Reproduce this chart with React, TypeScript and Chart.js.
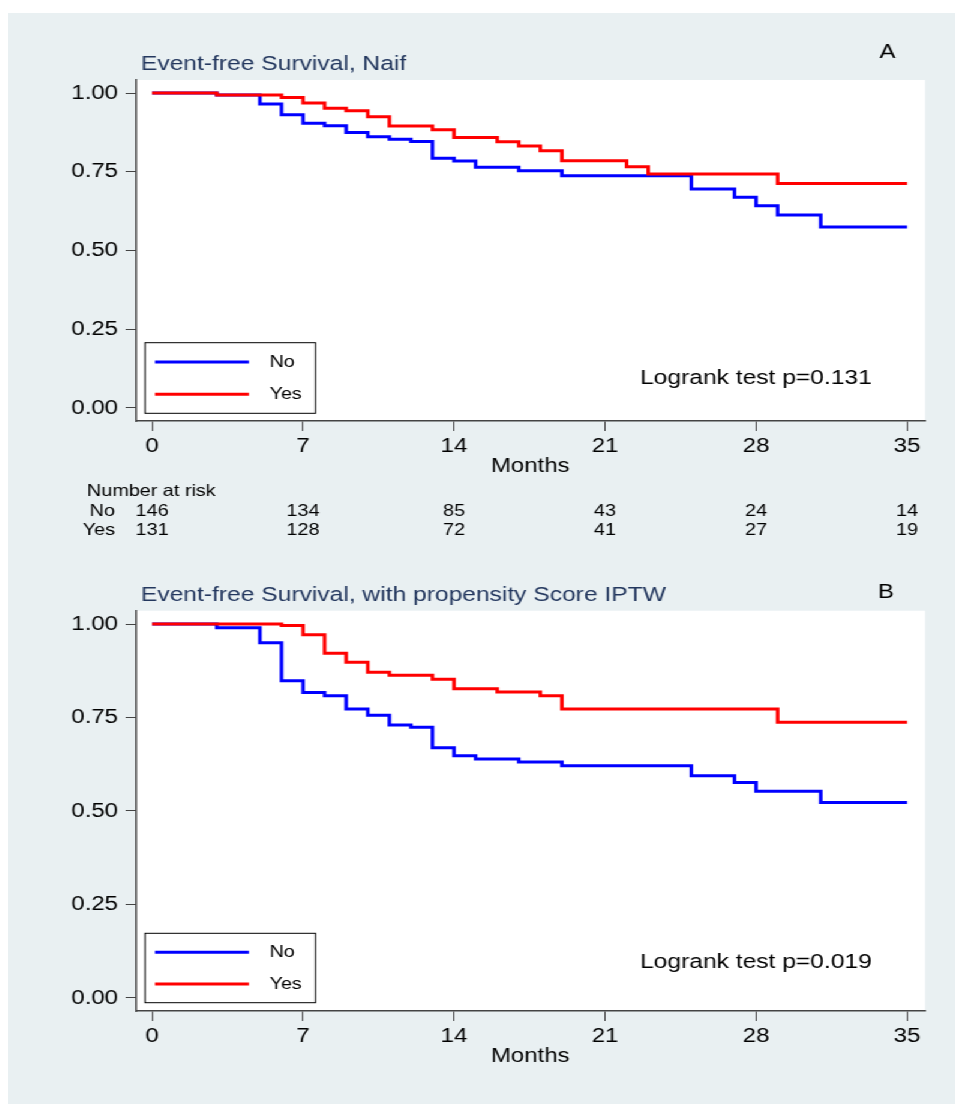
import { useEffect, useRef } from "react";
import { Chart, registerables } from "chart.js";

Chart.register(...registerables);

// ---------- data ----------
const monthTicks = [0, 7, 14, 21, 28, 35];
const survTicks = [0, 0.25, 0.5, 0.75, 1];
const groupLabels = ["No", "Yes"];
const seriesColors = ["#0000ff", "#ff0000"];

// Panel A: Event-free Survival, Naif
const naifNoTimes = [0, 3, 5, 6, 7, 8, 9, 10, 11, 12, 13, 14, 15, 17, 19, 25, 27, 28, 29, 31, 35];
const naifNoSurv = [1, 0.994, 0.965, 0.931, 0.904, 0.896, 0.875, 0.861, 0.853, 0.846, 0.793, 0.784, 0.764, 0.753, 0.737, 0.695, 0.669, 0.642, 0.613, 0.575, 0.575];
const naifYesTimes = [0, 3, 6, 7, 8, 9, 10, 11, 13, 14, 16, 17, 18, 19, 22, 23, 29, 35];
const naifYesSurv = [1, 0.994, 0.986, 0.968, 0.952, 0.944, 0.925, 0.895, 0.883, 0.859, 0.845, 0.832, 0.817, 0.785, 0.766, 0.743, 0.713, 0.713];
const riskNo = [146, 134, 85, 43, 24, 14];
const riskYes = [131, 128, 72, 41, 27, 19];

// Panel B: with propensity Score IPTW
const iptwNoTimes = [0, 3, 5, 6, 7, 8, 9, 10, 11, 12, 13, 14, 15, 17, 19, 25, 27, 28, 31, 35];
const iptwNoSurv = [1, 0.99, 0.95, 0.848, 0.817, 0.808, 0.773, 0.756, 0.73, 0.724, 0.669, 0.648, 0.639, 0.631, 0.621, 0.594, 0.576, 0.553, 0.523, 0.523];
const iptwYesTimes = [0, 6, 7, 8, 9, 10, 11, 13, 14, 16, 18, 19, 29, 35];
const iptwYesSurv = [1, 0.996, 0.971, 0.922, 0.898, 0.871, 0.863, 0.852, 0.827, 0.818, 0.808, 0.773, 0.737, 0.737];

// ---------- layout (unscaled canvas units; panel is stretched 1.2x horizontally) ----------
const FONT = '"Liberation Sans", Arial, sans-serif';
const STRETCH = 1.2;
const PANEL_W = 790;
const Y_AXIS_W = 106.3;
const PAD_RIGHT = PANEL_W - 764.2;
const X_MIN = -0.765;
const X_MAX = 35.834;
const AXIS_COLOR = "#444444";
const TITLE_COLOR = "#23375e";
const BG = "#e9f0f2";

type Spec = {
  title: string;
  letter: string;
  pText: string;
  noT: number[];
  noS: number[];
  yesT: number[];
  yesS: number[];
  yMin: number;
  yMax: number;
  padTop: number;
  xAxisH: number;
  monthsPad: number;
  titleY: number;
  letterX: number;
  letterY: number;
  legTop: number;
  legBottom: number;
  line1Y: number;
  line2Y: number;
  pY: number;
  risk: null | { headY: number; noY: number; yesY: number; no: number[]; yes: number[] };
};

const specA: Spec = {
  title: "Event-free Survival, Naif",
  letter: "A",
  pText: "Logrank test p=0.131",
  noT: naifNoTimes,
  noS: naifNoSurv,
  yesT: naifYesTimes,
  yesS: naifYesSurv,
  yMin: -0.0413,
  yMax: 1.0413,
  padTop: 67,
  xAxisH: 132,
  monthsPad: 75,
  titleY: 51,
  letterX: 733,
  letterY: 39.7,
  legTop: 329.7,
  legBottom: 400.3,
  line1Y: 349,
  line2Y: 381.3,
  pY: 365.3,
  risk: { headY: 478.7, noY: 498.7, yesY: 517.7, no: riskNo, yes: riskYes },
};

const specB: Spec = {
  title: "Event-free Survival, with propensity Score IPTW",
  letter: "B",
  pText: "Logrank test p=0.019",
  noT: iptwNoTimes,
  noS: iptwNoSurv,
  yesT: iptwYesTimes,
  yesS: iptwYesSurv,
  yMin: -0.0348,
  yMax: 1.0356,
  padTop: 57.7,
  xAxisH: 93,
  monthsPad: 36,
  titleY: 42,
  letterX: 731.7,
  letterY: 39,
  legTop: 380.3,
  legBottom: 449.7,
  line1Y: 399.3,
  line2Y: 431,
  pY: 409,
  risk: null,
};

function zip(t: number[], s: number[]) {
  return t.map((x, i) => ({ x, y: s[i] }));
}

function makePlugin(spec: Spec) {
  return {
    id: "annot",
    beforeDraw(chart: any) {
      const ctx = chart.ctx as CanvasRenderingContext2D;
      const a = chart.chartArea;
      ctx.save();
      ctx.fillStyle = "#ffffff";
      ctx.fillRect(a.left, a.top, a.right - a.left, a.bottom - a.top);
      ctx.restore();
    },
    afterDraw(chart: any) {
      const ctx = chart.ctx as CanvasRenderingContext2D;
      ctx.save();
      ctx.textBaseline = "middle";
      // title
      ctx.fillStyle = TITLE_COLOR;
      ctx.font = `20.5px ${FONT}`;
      ctx.textAlign = "left";
      ctx.fillText(spec.title, 110.8, spec.titleY);
      // panel letter
      ctx.fillStyle = "#000";
      ctx.font = `20px ${FONT}`;
      ctx.textAlign = "center";
      ctx.fillText(spec.letter, spec.letterX, spec.letterY);
      // legend box
      const lx = 114.2;
      const lw = 256.3 - 114.2;
      ctx.fillStyle = "#ffffff";
      ctx.fillRect(lx, spec.legTop, lw, spec.legBottom - spec.legTop);
      ctx.strokeStyle = "#000";
      ctx.lineWidth = 1;
      ctx.strokeRect(lx, spec.legTop, lw, spec.legBottom - spec.legTop);
      const ys = [spec.line1Y, spec.line2Y];
      groupLabels.forEach((lab, i) => {
        ctx.strokeStyle = seriesColors[i];
        ctx.lineWidth = 3;
        ctx.beginPath();
        ctx.moveTo(122.5, ys[i]);
        ctx.lineTo(200.8, ys[i]);
        ctx.stroke();
        ctx.fillStyle = "#000";
        ctx.font = `16.5px ${FONT}`;
        ctx.textAlign = "left";
        ctx.fillText(lab, 217.9, ys[i]);
      });
      // logrank text
      ctx.fillStyle = "#000";
      ctx.font = `20.5px ${FONT}`;
      ctx.textAlign = "left";
      ctx.fillText(spec.pText, 526.7, spec.pY);
      // risk table
      if (spec.risk) {
        const r = spec.risk;
        const xs = chart.scales.x;
        ctx.font = `16.5px ${FONT}`;
        ctx.textAlign = "left";
        ctx.fillText("Number at risk", 65.8, r.headY);
        ctx.textAlign = "right";
        ctx.fillText(groupLabels[0], 89.2, r.noY);
        ctx.fillText(groupLabels[1], 89.2, r.yesY);
        ctx.textAlign = "center";
        monthTicks.forEach((t, i) => {
          const px = xs.getPixelForValue(t);
          ctx.fillText(String(r.no[i]), px, r.noY);
          ctx.fillText(String(r.yes[i]), px, r.yesY);
        });
      }
      ctx.restore();
    },
  };
}

function buildConfig(spec: Spec): any {
  return {
    type: "line",
    data: {
      datasets: [
        {
          label: groupLabels[0],
          data: zip(spec.noT, spec.noS),
          borderColor: seriesColors[0],
          borderWidth: 3,
          stepped: "before",
          pointRadius: 0,
          fill: false,
          order: 2,
        },
        {
          label: groupLabels[1],
          data: zip(spec.yesT, spec.yesS),
          borderColor: seriesColors[1],
          borderWidth: 3,
          stepped: "before",
          pointRadius: 0,
          fill: false,
          order: 1,
        },
      ],
    },
    options: {
      animation: false,
      responsive: false,
      events: [],
      layout: { padding: { top: spec.padTop, right: PAD_RIGHT, left: 0, bottom: 0 } },
      plugins: {
        legend: { display: false },
        tooltip: { enabled: false },
        title: { display: false },
      },
      scales: {
        x: {
          type: "linear",
          position: "bottom",
          min: X_MIN,
          max: X_MAX,
          afterBuildTicks: (s: any) => {
            s.ticks = monthTicks.map((v) => ({ value: v }));
          },
          afterFit: (s: any) => {
            s.height = spec.xAxisH;
          },
          grid: { drawOnChartArea: false, drawTicks: true, tickLength: 10, color: AXIS_COLOR, lineWidth: 1 },
          border: { display: true, color: AXIS_COLOR, width: 1.5 },
          ticks: {
            font: { family: FONT, size: 20 },
            color: "#000",
            padding: 3,
            maxRotation: 0,
            autoSkip: false,
            callback: (v: any) => String(v),
          },
          title: {
            display: true,
            text: "Months",
            font: { family: FONT, size: 20 },
            color: "#000",
            padding: { top: 0, bottom: spec.monthsPad },
          },
        },
        y: {
          type: "linear",
          position: "left",
          min: spec.yMin,
          max: spec.yMax,
          afterBuildTicks: (s: any) => {
            s.ticks = survTicks.map((v) => ({ value: v }));
          },
          afterFit: (s: any) => {
            s.width = Y_AXIS_W;
          },
          grid: { drawOnChartArea: false, drawTicks: true, tickLength: 8.3, color: AXIS_COLOR, lineWidth: 1 },
          border: { display: true, color: AXIS_COLOR, width: 1.5 },
          ticks: {
            font: { family: FONT, size: 20 },
            color: "#000",
            padding: 6.3,
            autoSkip: false,
            callback: (v: any) => Number(v).toFixed(2),
          },
        },
      },
    },
    plugins: [makePlugin(spec)],
  };
}

function Panel({ spec, top, height }: { spec: Spec; top: number; height: number }) {
  const ref = useRef<HTMLCanvasElement>(null);
  useEffect(() => {
    const chart = new Chart(ref.current as HTMLCanvasElement, buildConfig(spec));
    return () => chart.destroy();
  }, [spec]);
  return (
    <canvas
      ref={ref}
      width={PANEL_W}
      height={height}
      style={{ position: "absolute", left: 0, top, display: "block" }}
    />
  );
}

export default function App() {
  return (
    <div
      style={{
        position: "fixed",
        left: 0,
        top: 0,
        width: 955,
        height: 1104,
        overflow: "hidden",
        background: "#ffffff",
      }}
    >
      <div
        style={{
          position: "absolute",
          left: 8,
          top: 13,
          width: PANEL_W,
          height: 1091,
          background: BG,
          transform: `scaleX(${STRETCH})`,
          transformOrigin: "0 0",
        }}
      >
        <Panel spec={specA} top={0} height={540} />
        <Panel spec={specB} top={540} height={551} />
      </div>
    </div>
  );
}
